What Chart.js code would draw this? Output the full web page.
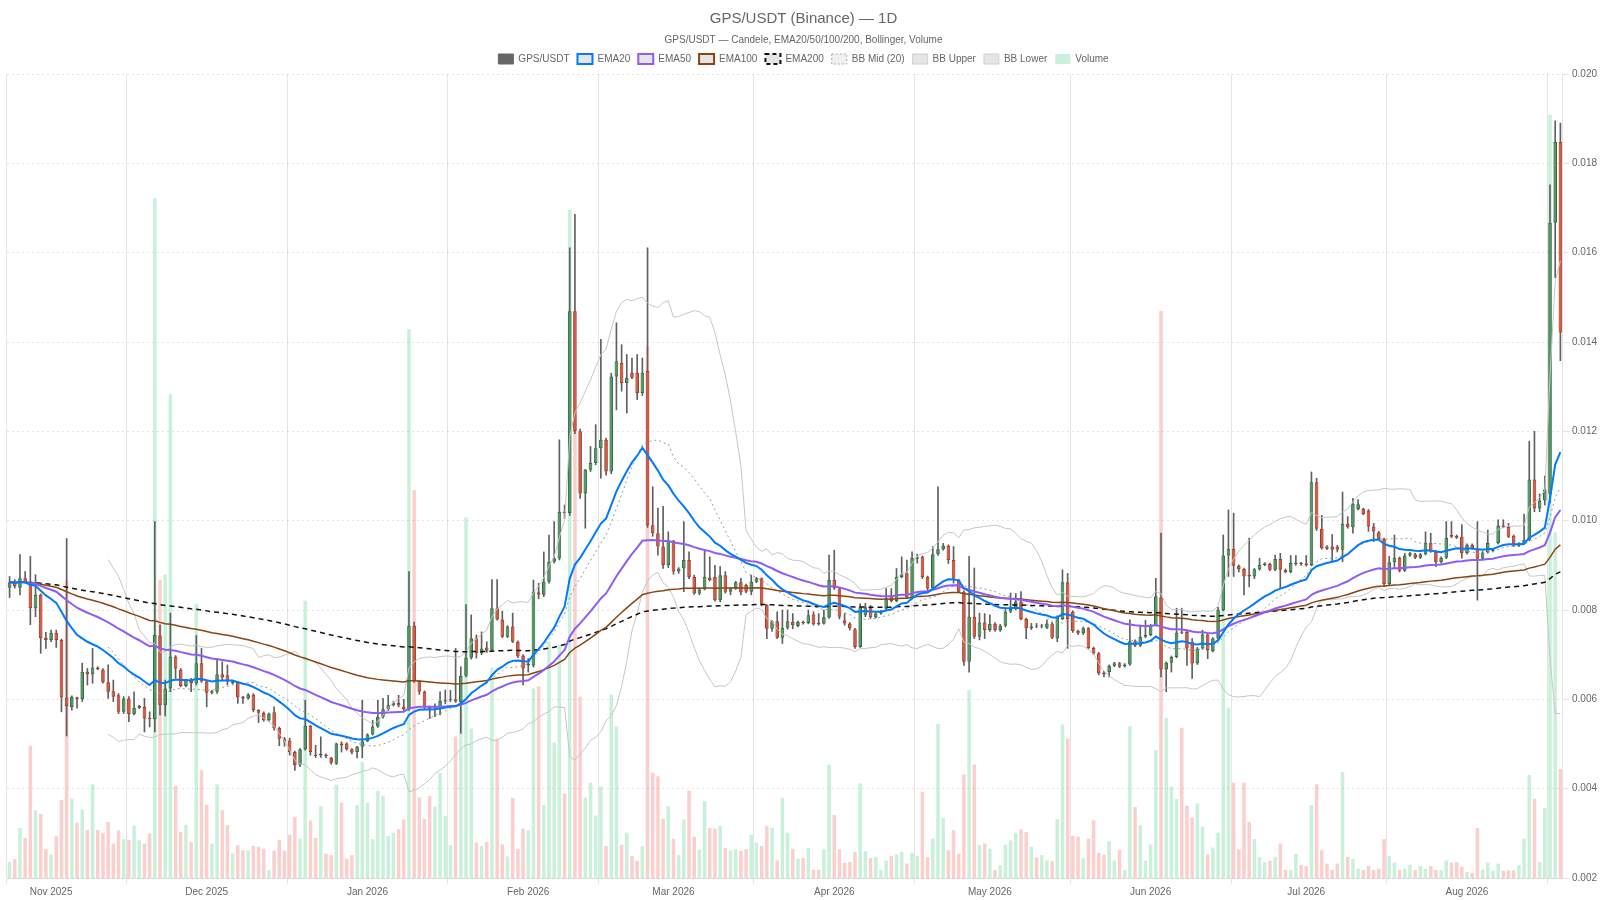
<!DOCTYPE html>
<html>
<head>
<meta charset="utf-8">
<script src="https://cdn.jsdelivr.net/npm/chart.js@4.4.1/dist/chart.umd.min.js"></script>
<style>
html,body{margin:0;padding:0;background:#ffffff;}
#wrap{width:1600px;height:900px;}
</style>
</head>
<body>
<div id="wrap"><canvas id="c" width="1600" height="900"></canvas></div>
<script>
// ---------- DATA ----------
const firstDay = [2025, 9, 24]; // 24 Oct 2025, daily candles
const monthTicks = ['2025-11-01','2025-12-01','2026-01-01','2026-02-01','2026-03-01','2026-04-01','2026-05-01','2026-06-01','2026-07-01','2026-08-01'];
const monthTickLabels = ['Nov 2025','Dec 2025','Jan 2026','Feb 2026','Mar 2026','Apr 2026','May 2026','Jun 2026','Jul 2026','Aug 2026'];
const gridCandles = [0,23,54,85,114,144,175,205,236,266,297];
const priceTicks = [0.002,0.004,0.006,0.008,0.010,0.012,0.014,0.016,0.018,0.020];

const open = [
0.00850,0.00862,0.00850,0.00871,0.00862,0.00804,0.00834,0.00738,0.00733,0.00749,
0.00733,0.00604,0.00583,0.00604,0.00600,0.00662,0.00656,0.00671,0.00667,0.00638,
0.00618,0.00609,0.00572,0.00602,0.00567,0.00581,0.00583,0.00559,0.00556,0.00743,
0.00587,0.00624,0.00696,0.00666,0.00630,0.00641,0.00636,0.00681,0.00640,0.00615,
0.00617,0.00656,0.00654,0.00636,0.00638,0.00606,0.00602,0.00610,0.00576,0.00570,
0.00553,0.00571,0.00536,0.00512,0.00508,0.00482,0.00453,0.00488,0.00541,0.00476,
0.00474,0.00476,0.00469,0.00456,0.00501,0.00501,0.00488,0.00482,0.00494,0.00506,
0.00521,0.00539,0.00561,0.00578,0.00587,0.00592,0.00584,0.00578,0.00765,0.00641,
0.00617,0.00583,0.00580,0.00583,0.00595,0.00598,0.00600,0.00594,0.00653,0.00693,
0.00737,0.00703,0.00716,0.00710,0.00804,0.00779,0.00740,0.00763,0.00729,0.00698,
0.00676,0.00676,0.00840,0.00834,0.00863,0.00908,0.00916,0.01020,0.01017,0.01469,
0.01200,0.01061,0.01114,0.01129,0.01162,0.01181,0.01110,0.01323,0.01353,0.01308,
0.01331,0.01331,0.01286,0.01335,0.00990,0.00972,0.00942,0.00901,0.00955,0.00886,
0.00893,0.00912,0.00874,0.00837,0.00846,0.00873,0.00874,0.00822,0.00878,0.00841,
0.00848,0.00862,0.00856,0.00841,0.00863,0.00871,0.00811,0.00758,0.00775,0.00738,
0.00760,0.00773,0.00764,0.00772,0.00771,0.00790,0.00771,0.00769,0.00783,0.00867,
0.00848,0.00777,0.00770,0.00757,0.00717,0.00788,0.00806,0.00784,0.00792,0.00803,
0.00831,0.00820,0.00874,0.00882,0.00827,0.00915,0.00919,0.00874,0.00848,0.00925,
0.00936,0.00944,0.00912,0.00867,0.00841,0.00684,0.00785,0.00740,0.00772,0.00755,
0.00769,0.00755,0.00765,0.00796,0.00802,0.00819,0.00780,0.00759,0.00765,0.00763,
0.00760,0.00770,0.00736,0.00780,0.00862,0.00796,0.00753,0.00748,0.00759,0.00715,
0.00703,0.00660,0.00661,0.00675,0.00681,0.00674,0.00678,0.00730,0.00720,0.00740,
0.00744,0.00766,0.00828,0.00667,0.00682,0.00695,0.00751,0.00751,0.00729,0.00680,
0.00714,0.00745,0.00708,0.00736,0.00800,0.00922,0.00937,0.00899,0.00892,0.00879,
0.00875,0.00891,0.00901,0.00903,0.00890,0.00914,0.00890,0.00885,0.00903,0.00905,
0.00904,0.00901,0.01086,0.00982,0.00942,0.00942,0.00942,0.00935,0.00993,0.00985,
0.01026,0.01026,0.01023,0.00987,0.00974,0.00959,0.00858,0.00907,0.00917,0.00888,
0.00922,0.00925,0.00917,0.00925,0.00950,0.00931,0.00907,0.00917,0.00968,0.00966,
0.00964,0.00927,0.00946,0.00937,0.00915,0.00929,0.00932,0.00950,0.00989,0.00986,
0.00966,0.00944,0.00949,0.00957,0.01092,0.01027,0.01045,0.01060,0.01667,0.01848
];
const high = [
0.00875,0.00868,0.00924,0.00886,0.00920,0.00879,0.00836,0.00750,0.00755,0.00755,
0.00735,0.00960,0.00608,0.00605,0.00681,0.00669,0.00714,0.00673,0.00669,0.00677,
0.00643,0.00613,0.00606,0.00606,0.00617,0.00587,0.00602,0.00572,0.00998,0.00767,
0.00643,0.00793,0.00698,0.00669,0.00645,0.00647,0.00743,0.00714,0.00643,0.00620,
0.00692,0.00684,0.00677,0.00641,0.00640,0.00607,0.00613,0.00613,0.00577,0.00572,
0.00570,0.00583,0.00538,0.00515,0.00513,0.00484,0.00490,0.00598,0.00542,0.00497,
0.00516,0.00478,0.00470,0.00502,0.00505,0.00503,0.00490,0.00495,0.00598,0.00523,
0.00553,0.00598,0.00602,0.00609,0.00595,0.00609,0.00600,0.00886,0.00773,0.00642,
0.00619,0.00585,0.00590,0.00617,0.00621,0.00620,0.00714,0.00673,0.00812,0.00789,
0.00744,0.00751,0.00729,0.00868,0.00868,0.00797,0.00765,0.00793,0.00731,0.00700,
0.00691,0.00867,0.00860,0.00930,0.00968,0.00998,0.01181,0.01035,0.01611,0.01686,
0.01205,0.01115,0.01166,0.01215,0.01406,0.01185,0.01330,0.01443,0.01394,0.01372,
0.01364,0.01372,0.01364,0.01611,0.01076,0.01028,0.01032,0.00975,0.00956,0.00895,
0.00998,0.00930,0.00878,0.00850,0.00934,0.00919,0.00900,0.00897,0.00886,0.00850,
0.00864,0.00871,0.00858,0.00878,0.00873,0.00872,0.00812,0.00777,0.00796,0.00800,
0.00800,0.00792,0.00775,0.00775,0.00800,0.00796,0.00792,0.00800,0.00923,0.00934,
0.00850,0.00792,0.00772,0.00759,0.00814,0.00815,0.00810,0.00795,0.00799,0.00848,
0.00848,0.00893,0.00919,0.00912,0.00930,0.00925,0.00921,0.00876,0.00942,0.01076,
0.00949,0.00946,0.00942,0.00869,0.00843,0.00920,0.00894,0.00793,0.00792,0.00789,
0.00772,0.00768,0.00804,0.00838,0.00837,0.00841,0.00782,0.00770,0.00770,0.00768,
0.00778,0.00772,0.00787,0.00890,0.00882,0.00798,0.00755,0.00762,0.00761,0.00717,
0.00705,0.00663,0.00677,0.00683,0.00683,0.00680,0.00778,0.00733,0.00766,0.00777,
0.00768,0.00871,0.00972,0.00684,0.00697,0.00804,0.00804,0.00753,0.00736,0.00716,
0.00755,0.00747,0.00738,0.00806,0.00968,0.01024,0.01017,0.00901,0.00894,0.00961,
0.00893,0.00916,0.00906,0.00905,0.00923,0.00927,0.00892,0.00922,0.00922,0.00907,
0.00922,0.01109,0.01095,0.01012,0.00944,0.00969,0.00945,0.01064,0.01009,0.01050,
0.01047,0.01028,0.01025,0.00994,0.00976,0.00961,0.00920,0.00968,0.00919,0.00927,
0.00929,0.00927,0.00927,0.00975,0.00972,0.00933,0.00919,0.00998,0.00998,0.00968,
0.00991,0.00948,0.00948,0.00998,0.00931,0.00979,0.00937,0.01002,0.01002,0.00994,
0.00968,0.00951,0.01015,0.01178,0.01200,0.01060,0.01100,0.01752,0.01895,0.01890
];
const low = [
0.00828,0.00849,0.00834,0.00860,0.00767,0.00785,0.00703,0.00714,0.00729,0.00716,
0.00572,0.00518,0.00576,0.00580,0.00595,0.00632,0.00636,0.00666,0.00636,0.00602,
0.00595,0.00568,0.00568,0.00550,0.00565,0.00579,0.00527,0.00538,0.00527,0.00565,
0.00563,0.00617,0.00647,0.00628,0.00628,0.00617,0.00632,0.00638,0.00583,0.00612,
0.00613,0.00643,0.00632,0.00634,0.00591,0.00591,0.00600,0.00572,0.00548,0.00551,
0.00551,0.00531,0.00496,0.00495,0.00475,0.00441,0.00449,0.00486,0.00475,0.00470,
0.00470,0.00469,0.00455,0.00454,0.00482,0.00486,0.00478,0.00469,0.00469,0.00505,
0.00520,0.00537,0.00558,0.00575,0.00585,0.00583,0.00575,0.00575,0.00638,0.00611,
0.00578,0.00557,0.00561,0.00565,0.00590,0.00595,0.00593,0.00524,0.00650,0.00690,
0.00692,0.00700,0.00705,0.00708,0.00777,0.00738,0.00738,0.00727,0.00693,0.00632,
0.00661,0.00672,0.00825,0.00830,0.00860,0.00905,0.00912,0.01005,0.01012,0.01195,
0.01050,0.00983,0.01110,0.01125,0.01095,0.01102,0.01105,0.01248,0.01290,0.01241,
0.01318,0.01271,0.01280,0.00985,0.00965,0.00923,0.00893,0.00895,0.00880,0.00882,
0.00841,0.00870,0.00835,0.00834,0.00845,0.00865,0.00820,0.00818,0.00838,0.00834,
0.00846,0.00834,0.00838,0.00834,0.00861,0.00809,0.00736,0.00752,0.00736,0.00725,
0.00757,0.00758,0.00762,0.00768,0.00769,0.00766,0.00766,0.00768,0.00781,0.00846,
0.00780,0.00766,0.00755,0.00714,0.00716,0.00785,0.00781,0.00782,0.00790,0.00800,
0.00818,0.00818,0.00872,0.00826,0.00825,0.00905,0.00870,0.00840,0.00846,0.00922,
0.00934,0.00904,0.00860,0.00839,0.00676,0.00661,0.00736,0.00733,0.00736,0.00752,
0.00752,0.00752,0.00762,0.00794,0.00800,0.00778,0.00736,0.00756,0.00760,0.00760,
0.00758,0.00736,0.00729,0.00778,0.00714,0.00750,0.00745,0.00745,0.00713,0.00700,
0.00655,0.00650,0.00650,0.00673,0.00671,0.00672,0.00676,0.00718,0.00718,0.00738,
0.00742,0.00764,0.00650,0.00617,0.00661,0.00693,0.00747,0.00676,0.00647,0.00678,
0.00712,0.00691,0.00706,0.00734,0.00798,0.00875,0.00875,0.00885,0.00834,0.00852,
0.00870,0.00889,0.00899,0.00888,0.00888,0.00849,0.00883,0.00883,0.00900,0.00900,
0.00898,0.00899,0.00978,0.00936,0.00935,0.00910,0.00930,0.00908,0.00983,0.00972,
0.01024,0.01013,0.00976,0.00953,0.00957,0.00852,0.00855,0.00895,0.00885,0.00886,
0.00920,0.00915,0.00915,0.00923,0.00929,0.00897,0.00905,0.00915,0.00962,0.00960,
0.00916,0.00925,0.00936,0.00822,0.00913,0.00927,0.00930,0.00948,0.00984,0.00962,
0.00942,0.00942,0.00947,0.00955,0.01020,0.01020,0.01035,0.01040,0.01544,0.01358
];
const close = [
0.00862,0.00853,0.00871,0.00862,0.00804,0.00834,0.00737,0.00733,0.00749,0.00733,
0.00604,0.00585,0.00606,0.00600,0.00662,0.00656,0.00671,0.00668,0.00638,0.00617,
0.00606,0.00572,0.00602,0.00567,0.00581,0.00585,0.00557,0.00556,0.00744,0.00587,
0.00624,0.00696,0.00669,0.00630,0.00643,0.00636,0.00681,0.00640,0.00615,0.00618,
0.00656,0.00649,0.00640,0.00640,0.00604,0.00602,0.00611,0.00576,0.00570,0.00553,
0.00568,0.00536,0.00512,0.00505,0.00482,0.00453,0.00488,0.00541,0.00482,0.00473,
0.00478,0.00473,0.00458,0.00501,0.00497,0.00488,0.00481,0.00494,0.00506,0.00521,
0.00539,0.00561,0.00578,0.00587,0.00592,0.00586,0.00578,0.00765,0.00641,0.00617,
0.00583,0.00579,0.00583,0.00596,0.00598,0.00600,0.00595,0.00653,0.00693,0.00737,
0.00703,0.00714,0.00709,0.00804,0.00779,0.00740,0.00763,0.00729,0.00696,0.00669,
0.00680,0.00841,0.00834,0.00863,0.00908,0.00916,0.01020,0.01017,0.01469,0.01200,
0.01061,0.01114,0.01129,0.01162,0.01181,0.01110,0.01323,0.01357,0.01308,0.01320,
0.01320,0.01286,0.01331,0.00990,0.00972,0.00942,0.00901,0.00955,0.00886,0.00893,
0.00912,0.00874,0.00837,0.00846,0.00874,0.00867,0.00822,0.00878,0.00841,0.00848,
0.00862,0.00839,0.00841,0.00863,0.00871,0.00811,0.00758,0.00775,0.00738,0.00760,
0.00775,0.00766,0.00773,0.00771,0.00788,0.00768,0.00768,0.00784,0.00867,0.00848,
0.00785,0.00770,0.00759,0.00717,0.00806,0.00806,0.00784,0.00792,0.00797,0.00826,
0.00820,0.00874,0.00880,0.00828,0.00917,0.00918,0.00874,0.00848,0.00925,0.00936,
0.00944,0.00912,0.00867,0.00841,0.00684,0.00785,0.00740,0.00772,0.00755,0.00769,
0.00755,0.00765,0.00796,0.00802,0.00819,0.00780,0.00759,0.00763,0.00763,0.00765,
0.00770,0.00738,0.00785,0.00862,0.00780,0.00753,0.00748,0.00759,0.00715,0.00703,
0.00658,0.00656,0.00675,0.00681,0.00673,0.00678,0.00730,0.00720,0.00740,0.00744,
0.00766,0.00831,0.00667,0.00682,0.00695,0.00749,0.00749,0.00714,0.00680,0.00714,
0.00745,0.00710,0.00736,0.00801,0.00922,0.00937,0.00899,0.00892,0.00875,0.00875,
0.00891,0.00901,0.00904,0.00890,0.00914,0.00890,0.00885,0.00905,0.00905,0.00903,
0.00901,0.01086,0.00982,0.00938,0.00937,0.00935,0.00935,0.00993,0.00985,0.01038,
0.01037,0.01015,0.00987,0.00976,0.00959,0.00858,0.00907,0.00917,0.00888,0.00922,
0.00927,0.00917,0.00925,0.00950,0.00931,0.00907,0.00917,0.00962,0.00964,0.00962,
0.00927,0.00946,0.00938,0.00915,0.00929,0.00950,0.00935,0.00989,0.00986,0.00964,
0.00944,0.00949,0.00957,0.01092,0.01027,0.01045,0.01070,0.01667,0.01848,0.01421
];
// volume, millions of GPS
const volume = [
4.0,4.7,12.5,10.0,33.0,16.9,16.0,7.2,5.8,10.4,
19.5,74.5,19.8,13.8,17.1,12.0,23.4,12.0,11.3,14.0,
8.6,11.9,9.7,9.5,13.1,9.4,8.6,11.1,169.8,74.5,
75.8,120.8,23.0,11.5,13.3,9.0,68.5,26.9,18.3,8.6,
23.4,16.9,13.2,6.1,8.2,6.9,6.9,8.0,7.8,7.3,
2.0,6.8,9.5,6.8,10.8,15.3,9.8,69.3,14.4,10.0,
17.9,6.1,5.7,23.3,18.8,4.8,5.7,18.2,29.0,18.8,
9.7,21.8,20.5,10.5,11.3,12.2,14.6,137.0,96.8,20.1,
14.7,20.5,17.8,26.3,15.5,8.2,35.3,42.5,90.0,37.3,
8.8,8.0,9.0,52.5,34.8,8.4,5.4,20.0,7.3,12.3,
11.9,47.3,47.8,18.2,59.0,33.8,58.3,21.1,166.8,115.5,
45.3,20.1,23.8,15.6,22.8,8.0,45.8,37.8,8.3,11.3,
5.5,4.3,8.0,132.8,26.3,25.4,14.8,17.9,9.8,5.7,
14.6,21.8,10.3,7.1,19.2,12.5,12.3,13.0,7.5,6.9,
7.2,6.8,7.2,10.8,8.8,8.0,13.0,12.5,4.4,20.0,
11.3,7.3,4.8,5.0,7.5,2.0,2.0,7.2,28.3,15.7,
7.2,3.8,4.0,6.5,23.6,6.7,5.0,5.3,2.0,4.3,
5.5,5.9,6.5,3.6,6.3,5.5,21.5,5.2,9.8,38.5,
15.0,6.9,11.9,6.1,25.9,46.9,28.3,8.2,8.6,7.3,
2.0,3.2,8.3,9.4,11.3,12.2,11.5,7.8,5.1,5.7,
4.4,4.2,14.7,38.3,34.8,10.5,10.3,4.9,9.8,14.4,
6.3,5.8,9.2,4.4,7.0,2.0,37.9,17.7,13.2,4.3,
8.4,31.9,141.6,40.0,22.8,19.7,37.5,18.0,15.1,18.6,
12.8,5.9,7.6,11.3,71.3,42.5,23.8,7.2,23.8,14.0,
9.7,5.3,4.0,4.3,5.3,8.6,2.0,2.0,6.0,3.3,
3.0,18.2,23.4,6.9,3.6,2.0,3.6,26.5,5.3,4.8,
2.3,2.0,3.0,2.0,2.3,9.7,5.5,3.8,2.0,2.3,
3.3,2.0,3.0,2.3,3.0,2.0,1.9,4.4,3.8,4.0,
2.8,1.5,1.3,12.5,2.1,3.8,1.8,3.6,1.8,1.9,
1.9,3.2,9.8,25.7,19.8,4.0,17.5,190.5,86.3,27.2
];

// ---------- DERIVED (indicators from the closes) ----------
const dates = open.map((_, i) => new Date(Date.UTC(firstDay[0], firstDay[1], firstDay[2] + i)).toISOString().slice(0, 10));
const labelAt = {};
monthTicks.forEach((d, k) => { const idx = dates.indexOf(d); if (idx >= 0) labelAt[idx] = monthTickLabels[k]; });
const gridSet = new Set(gridCandles);

function ema(src, n) {
  const k = 2 / (n + 1); const out = []; let prev = src[0];
  for (let i = 0; i < src.length; i++) { prev = i === 0 ? src[0] : src[i] * k + prev * (1 - k); out.push(prev); }
  return out;
}
function bollinger(src, n, mult) {
  const mid = [], up = [], lo = [];
  for (let i = 0; i < src.length; i++) {
    if (i < n - 1) { mid.push(null); up.push(null); lo.push(null); continue; }
    let s = 0; for (let j = i - n + 1; j <= i; j++) s += src[j];
    const m = s / n; let v = 0;
    for (let j = i - n + 1; j <= i; j++) v += (src[j] - m) * (src[j] - m);
    const sd = Math.sqrt(v / n);
    mid.push(m); up.push(m + mult * sd); lo.push(m - mult * sd);
  }
  return { mid, up, lo };
}
const ema20 = ema(close, 20), ema50 = ema(close, 50), ema100 = ema(close, 100), ema200 = ema(close, 200);
const bb = bollinger(close, 20, 2);
const isUp = close.map((c, i) => c >= open[i]);

const COL = {
  ema20: 'rgb(0,122,255)', ema50: 'rgb(145,92,245)', ema100: 'rgb(139,69,19)', ema200: '#111111',
  bbMid: '#9a9a9a', bb: '#c6c6c6',
  upFill: '#4f9a63', upBorder: '#2f6c41', dnFill: '#db5940', dnBorder: '#a83a28', wick: '#606060',
  volUp: 'rgba(38,194,110,0.25)', volDn: 'rgba(239,83,80,0.28)'
};

const legendSpec = [
  { text: 'GPS/USDT', fillStyle: '#666666', strokeStyle: '#666666', lineWidth: 1 },
  { text: 'EMA20', fillStyle: 'rgba(0,0,0,0.1)', strokeStyle: COL.ema20, lineWidth: 2 },
  { text: 'EMA50', fillStyle: 'rgba(0,0,0,0.1)', strokeStyle: COL.ema50, lineWidth: 2 },
  { text: 'EMA100', fillStyle: 'rgba(0,0,0,0.1)', strokeStyle: COL.ema100, lineWidth: 2 },
  { text: 'EMA200', fillStyle: 'rgba(0,0,0,0.1)', strokeStyle: COL.ema200, lineWidth: 2, lineDash: [4, 3] },
  { text: 'BB Mid (20)', fillStyle: 'rgba(0,0,0,0.06)', strokeStyle: '#aaaaaa', lineWidth: 1, lineDash: [2, 2] },
  { text: 'BB Upper', fillStyle: 'rgba(0,0,0,0.1)', strokeStyle: '#d0d0d0', lineWidth: 1 },
  { text: 'BB Lower', fillStyle: 'rgba(0,0,0,0.1)', strokeStyle: '#d0d0d0', lineWidth: 1 },
  { text: 'Volume', fillStyle: COL.volUp, strokeStyle: COL.volUp, lineWidth: 0 }
];

const lineDs = (label, data, color, width, dash, order) => ({
  type: 'line', label, data, borderColor: color, backgroundColor: color, borderWidth: width,
  borderDash: dash || [], pointRadius: 0, pointHoverRadius: 0, tension: 0, fill: false,
  yAxisID: 'y', order, spanGaps: false
});

new Chart(document.getElementById('c'), {
  type: 'bar',
  data: {
    labels: dates,
    datasets: [
      lineDs('EMA20', ema20, COL.ema20, 2, null, 1),
      lineDs('EMA50', ema50, COL.ema50, 2, null, 2),
      lineDs('EMA100', ema100, COL.ema100, 1.5, null, 3),
      lineDs('EMA200', ema200, COL.ema200, 1.5, [5, 4], 4),
      lineDs('BB Mid (20)', bb.mid, COL.bbMid, 1, [2, 3], 5),
      lineDs('BB Upper', bb.up, COL.bb, 1, null, 6),
      lineDs('BB Lower', bb.lo, COL.bb, 1, null, 7),
      {
        type: 'bar', label: 'GPS/USDT', data: open.map((o, i) => [o, close[i]]), yAxisID: 'y',
        backgroundColor: isUp.map(u => u ? COL.upFill : COL.dnFill),
        borderColor: isUp.map(u => u ? COL.upBorder : COL.dnBorder),
        borderWidth: 1, borderSkipped: false, grouped: false, minBarLength: 1,
        barPercentage: 0.7, categoryPercentage: 1, order: 10
      },
      {
        type: 'bar', label: 'wicks', data: low.map((l, i) => [l, high[i]]), yAxisID: 'y',
        backgroundColor: COL.wick, borderWidth: 0, grouped: false, barThickness: 1, order: 11
      },
      {
        type: 'bar', label: 'Volume', data: volume, yAxisID: 'yv',
        backgroundColor: isUp.map(u => u ? COL.volUp : COL.volDn), borderWidth: 0,
        grouped: false, barPercentage: 0.68, categoryPercentage: 1, order: 20
      }
    ]
  },
  options: {
    responsive: false,
    animation: false,
    events: [],
    layout: { padding: { left: 7, right: 0, top: 0, bottom: 0 } },
    scales: {
      x: {
        type: 'category', offset: true,
        grid: {
          offset: true, tickLength: 6, lineWidth: 1,
          color: (ctx) => (ctx.index !== undefined && gridSet.has(ctx.index)) ? 'rgba(0,0,0,0.1)' : 'rgba(0,0,0,0)'
        },
        border: { color: 'rgba(0,0,0,0.1)' },
        ticks: {
          autoSkip: false, maxRotation: 0, minRotation: 0, padding: 2, color: '#666666', font: { size: 10 },
          callback: (v, i) => labelAt[i] || ''
        }
      },
      y: {
        type: 'linear', position: 'right', min: priceTicks[0], max: priceTicks[priceTicks.length - 1],
        afterBuildTicks: (scale) => { scale.ticks = priceTicks.map(v => ({ value: v })); },
        grid: { color: 'rgba(0,0,0,0.1)', tickLength: 6 },
        border: { dash: [2, 3], color: 'rgba(0,0,0,0.1)' },
        ticks: { padding: 3, color: '#666666', font: { size: 10 }, callback: (v) => Number(v).toFixed(3) }
      },
      yv: { type: 'linear', display: false, min: 0, max: 200.75 }
    },
    plugins: {
      title: { display: true, text: 'GPS/USDT (Binance) — 1D', color: '#666666', font: { size: 15, weight: 'normal' }, padding: { top: 10, bottom: 2 } },
      subtitle: { display: true, text: 'GPS/USDT — Candele, EMA20/50/100/200, Bollinger, Volume', color: '#666666', font: { size: 10 }, padding: { top: 4, bottom: 0 } },
      legend: {
        display: true, position: 'top',
        labels: {
          color: '#666666', font: { size: 10 }, boxWidth: 15, boxHeight: 10, padding: 8,
          generateLabels: () => legendSpec.map((s, k) => ({
            text: s.text, fillStyle: s.fillStyle, strokeStyle: s.strokeStyle, lineWidth: s.lineWidth,
            lineDash: s.lineDash || [], hidden: false, datasetIndex: k, fontColor: '#666666'
          }))
        }
      },
      tooltip: { enabled: false }
    }
  }
});
</script>
</body>
</html>
